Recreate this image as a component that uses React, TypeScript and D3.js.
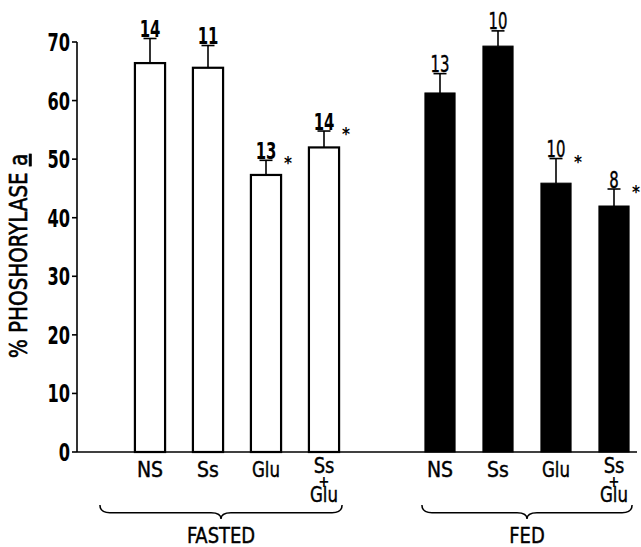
import React from "react";
import * as d3 from "d3";

const groups = ["FASTED", "FED"];
const treatments = ["NS", "Ss", "Glu", "Ss+Glu"];
const fastedMeans = [66.4, 65.6, 47.3, 52.0];
const fastedErr = [4.2, 3.8, 2.5, 2.8];
const fedMeans = [61.3, 69.3, 45.9, 42.0];
const fedErr = [3.3, 2.6, 4.2, 2.9];
const fastedN = ["14", "11", "13", "14"];
const fedN = ["13", "10", "10", "8"];
const fastedStar = [false, false, true, true];
const fedStar = [false, false, true, true];
const yTicks = [0, 10, 20, 30, 40, 50, 60, 70];

const W = 641;
const H = 547;
const FONT = "'DejaVu Sans Condensed', 'Liberation Sans', sans-serif";
const SX = 0.95;

type Bar = { key: string; group: string; t: string; mean: number; err: number; n: string; star: boolean; filled: boolean };

const bars: Bar[] = [];
treatments.forEach((t, i) => bars.push({ key: "FASTED-" + t, group: "FASTED", t, mean: fastedMeans[i], err: fastedErr[i], n: fastedN[i], star: fastedStar[i], filled: false }));
treatments.forEach((t, i) => bars.push({ key: "FED-" + t, group: "FED", t, mean: fedMeans[i], err: fedErr[i], n: fedN[i], star: fedStar[i], filled: true }));

const slots = [...bars.slice(0, 4).map((b) => b.key), "gap", ...bars.slice(4).map((b) => b.key)];

const x = d3.scaleBand<string>().domain(slots).range([121, 643]).paddingInner(0.48).paddingOuter(0.24);
const y = d3.scaleLinear().domain([0, 70]).range([452, 42]);

function bracePath(x1: number, x2: number, yTop: number, depth: number) {
  const xm = (x1 + x2) / 2;
  const r = 5;
  const yl = yTop + depth * 0.55;
  return [
    `M${x1},${yTop}`,
    `Q${x1},${yl} ${x1 + r * 2},${yl}`,
    `L${xm - r * 2},${yl}`,
    `Q${xm},${yl} ${xm},${yTop + depth}`,
    `Q${xm},${yl} ${xm + r * 2},${yl}`,
    `L${x2 - r * 2},${yl}`,
    `Q${x2},${yl} ${x2},${yTop}`,
  ].join(" ");
}

function T(props: { x: number; y: number; size: number; anchor?: string; weight?: number; children: React.ReactNode; sx?: number; sw?: number }) {
  const { x, y, size, anchor = "middle", weight = 400, children, sx = SX, sw = 0.4 } = props;
  return (
    <text transform={`translate(${x},${y}) scale(${sx},1)`} textAnchor={anchor} fontSize={size} fontWeight={weight} stroke="#000" strokeWidth={sw}>
      {children}
    </text>
  );
}

export default function App() {
  const y0 = y(0);
  const bw = x.bandwidth();
  const braces = groups.map((g) => {
    const ks = bars.filter((b) => b.group === g).map((b) => b.key);
    const first = x(ks[0])!;
    const last = x(ks[ks.length - 1])! + bw;
    return { g, x1: first - (g === "FASTED" ? 35 : 3), x2: last + 3 };
  });
  return (
    <svg width={W} height={H} style={{ position: "absolute", left: 0, top: 0, background: "#fff" }} fontFamily={FONT}>
      <line x1={77} x2={77} y1={y(70)} y2={y0} stroke="#000" strokeWidth={1.6} />
      <line x1={77} x2={637} y1={y0} y2={y0} stroke="#000" strokeWidth={1.6} />
      {yTicks.map((t) => (
        <g key={t}>
          <line x1={72} x2={77} y1={y(t)} y2={y(t)} stroke="#000" strokeWidth={1.6} />
          <T x={70} y={y(t) + 9} size={25} anchor="end" weight={700} sx={0.72} sw={0}>
            {t}
          </T>
        </g>
      ))}
      <text transform={`translate(27,256) rotate(-90) scale(0.92,1)`} textAnchor="middle" fontSize={24} fontWeight={400} stroke="#000" strokeWidth={0.6}>
        % PHOSHORYLASE <tspan textDecoration="underline">a</tspan>
      </text>

      {bars.map((b) => {
        const bx = x(b.key)!;
        const cx = bx + bw / 2;
        const top = y(b.mean);
        const et = y(b.mean + b.err);
        return (
          <g key={b.key}>
            <rect
              x={bx}
              y={top}
              width={bw}
              height={y0 - top}
              fill={b.filled ? "#000" : "#fff"}
              stroke="#000"
              strokeWidth={b.filled ? 1 : 2.2}
            />
            <line x1={cx} x2={cx} y1={top} y2={et} stroke="#000" strokeWidth={1.6} />
            <line x1={cx - 6.5} x2={cx + 6.5} y1={et} y2={et} stroke="#000" strokeWidth={1.6} />
            <T x={cx} y={et - 1.5} size={23} weight={b.filled ? 400 : 700} sx={0.72} sw={b.filled ? 0.4 : 0}>
              {b.n}
            </T>
            {b.star && (
              <T x={bx + bw + 7} y={et + 9} size={17} weight={700} sx={1} sw={0}>
                *
              </T>
            )}
            {b.t === "Ss+Glu" ? (
              <g>
                <T x={cx} y={473} size={21}>Ss</T>
                <T x={cx} y={487} size={15} weight={700} sx={1} sw={0}>+</T>
                <T x={cx} y={502} size={21} sx={0.88}>Glu</T>
              </g>
            ) : (
              <T x={cx} y={477} size={21} sx={b.t === "Glu" ? 0.88 : 1}>
                {b.t}
              </T>
            )}
          </g>
        );
      })}

      {braces.map((br) => (
        <g key={br.g}>
          <path d={bracePath(br.x1, br.x2, 505, 14)} fill="none" stroke="#000" strokeWidth={1.5} />
          <T x={(br.x1 + br.x2) / 2} y={543} size={21}>
            {br.g}
          </T>
        </g>
      ))}
    </svg>
  );
}
